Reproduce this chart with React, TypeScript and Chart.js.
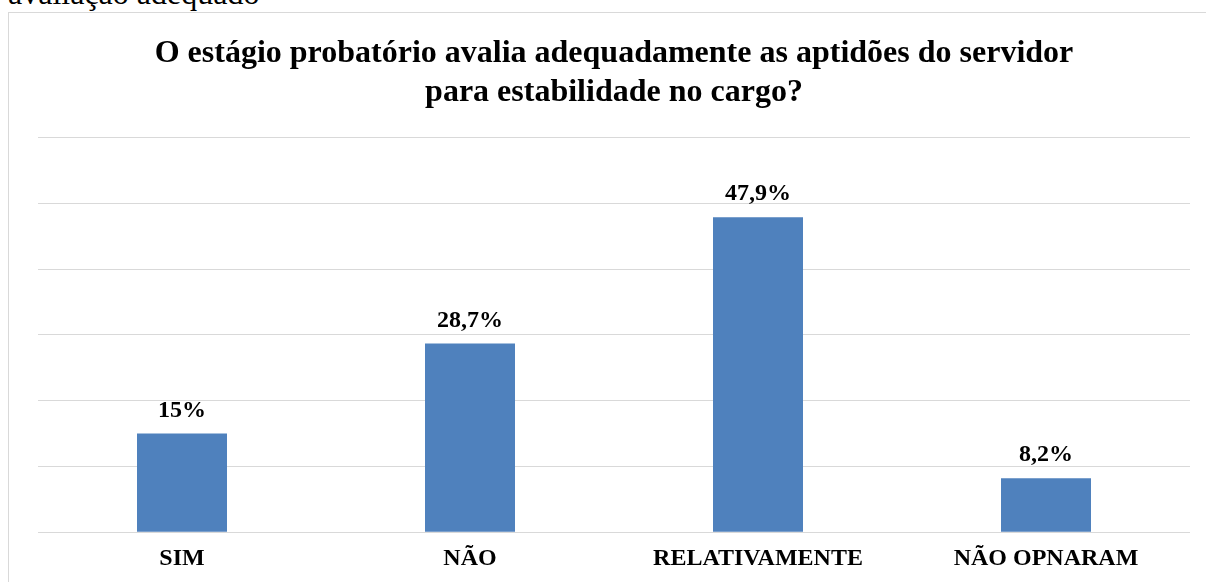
import React, { useEffect, useRef } from "react";
import { Chart, registerables } from "chart.js";

Chart.register(...registerables);

const categories: string[] = ["SIM", "NÃO", "RELATIVAMENTE", "NÃO OPNARAM"];
const values: number[] = [15, 28.7, 47.9, 8.2];
const valueLabels: string[] = ["15%", "28,7%", "47,9%", "8,2%"];
const titleLines: string[] = [
  "O estágio probatório avalia adequadamente as aptidões do servidor",
  "para estabilidade no cargo?",
];
const aboveText = "avaliação adequado";

const SERIF = "'Liberation Serif', 'Times New Roman', 'DejaVu Serif', serif";

const valueLabelPlugin = {
  id: "valueLabels",
  afterDatasetsDraw(chart: any) {
    const ctx = chart.ctx;
    const meta = chart.getDatasetMeta(0);
    ctx.save();
    ctx.font = `bold 24px ${SERIF}`;
    ctx.fillStyle = "#000000";
    ctx.textAlign = "center";
    ctx.textBaseline = "alphabetic";
    meta.data.forEach((bar: any, i: number) => {
      ctx.fillText(valueLabels[i], bar.x, bar.y - 17);
    });
    ctx.restore();
  },
};

export default function App() {
  const canvasRef = useRef<HTMLCanvasElement | null>(null);

  useEffect(() => {
    if (!canvasRef.current) return;
    const chart = new Chart(canvasRef.current, {
      type: "bar",
      data: {
        labels: categories,
        datasets: [
          {
            data: values,
            backgroundColor: "#4F81BD",
            borderWidth: 0,
            barPercentage: 0.3125,
            categoryPercentage: 1,
          },
        ],
      },
      options: {
        responsive: false,
        animation: false,
        devicePixelRatio: 1,
        layout: { padding: { left: 29, right: 27, top: 0, bottom: 10 } },
        plugins: {
          legend: { display: false },
          tooltip: { enabled: false },
          title: {
            display: true,
            text: titleLines,
            color: "#000000",
            font: { family: SERIF, size: 32, weight: "bold", lineHeight: 1.2 },
            padding: { top: 22, bottom: 26 },
          },
        },
        scales: {
          x: {
            grid: { display: false, drawTicks: false },
            border: { display: false },
            ticks: {
              color: "#000000",
              padding: 12,
              font: { family: SERIF, size: 24, weight: "bold", lineHeight: 1.2 },
            },
          },
          y: {
            min: 0,
            max: 60,
            ticks: { display: false, stepSize: 10 },
            border: { display: false },
            grid: { color: "#d9d9d9", lineWidth: 1, drawTicks: false },
          },
        },
      },
      plugins: [valueLabelPlugin],
    });
    return () => chart.destroy();
  }, []);

  return (
    <div>
      <div
        style={{
          position: "absolute",
          left: 8,
          top: -23,
          fontFamily: SERIF,
          fontSize: 32,
          lineHeight: "32px",
          color: "#000",
          whiteSpace: "nowrap",
        }}
      >
        {aboveText}
      </div>
      <div
        style={{
          position: "absolute",
          left: 8,
          top: 12,
          width: 1210,
          height: 600,
          border: "1px solid #d9d9d9",
          background: "#fff",
        }}
      >
        <canvas
          ref={canvasRef}
          width={1208}
          height={582}
          style={{ display: "block", width: 1208, height: 582 }}
        />
      </div>
    </div>
  );
}
